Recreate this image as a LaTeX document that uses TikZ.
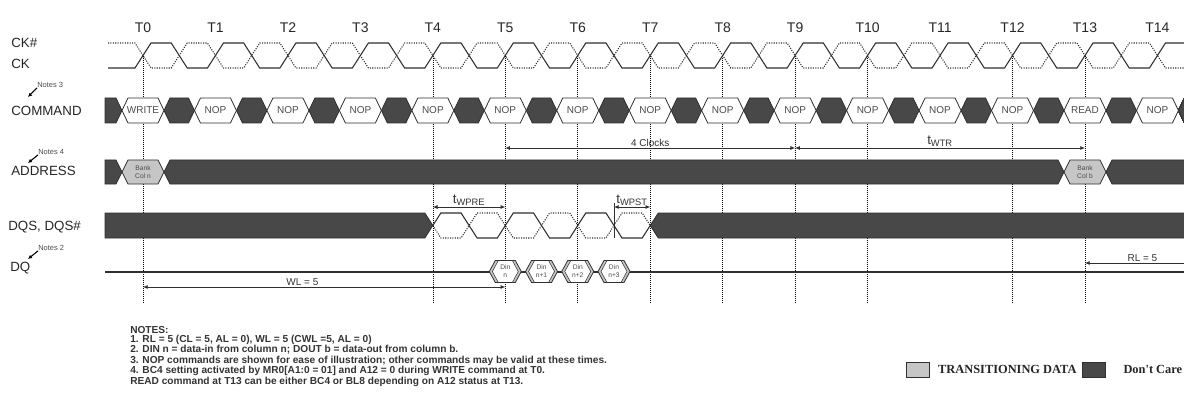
\documentclass[tikz,border=0pt]{standalone}
\usepackage{fontspec}
\setmainfont{Liberation Sans}
\newfontfamily\legendfont{Liberation Serif}
\usetikzlibrary{arrows.meta, positioning}

\definecolor{dontcare}{HTML}{484848}
\definecolor{transdata}{HTML}{C6C6C6}
\definecolor{wire}{HTML}{303030}

\tikzstyle{sigline} = [draw=wire, line width=0.8pt]
\tikzstyle{sigdot} = [draw=wire, line width=0.8pt, densely dotted]
\tikzstyle{darkbar} = [fill=dontcare, draw=wire, line width=0.6pt]
\tikzstyle{cmdbox} = [fill=white, draw=wire, line width=0.6pt]
\tikzstyle{transbox} = [fill=transdata, draw=wire, line width=0.6pt]
\tikzstyle{dinbox} = [fill=white, draw=wire, line width=0.4pt]
\tikzstyle{tickline} = [draw=black, line width=0.5pt, densely dotted]
\tikzstyle{dimarrow} = [draw=wire, line width=0.6pt, {Latex[length=3.5pt,width=3pt]}-{Latex[length=3.5pt,width=3pt]}]
\tikzstyle{notearrow} = [draw=black, line width=0.8pt, -{Latex[length=3pt,width=3pt]}]
\tikzstyle{signame} = [anchor=west, inner sep=0pt, font=\fontsize{10}{10}\selectfont, text=black!85]
\tikzstyle{clklabel} = [inner sep=0pt, font=\fontsize{10.5}{10.5}\selectfont, text=black!85]
\tikzstyle{boxtext} = [inner sep=0pt, font=\fontsize{7.5}{7.5}\selectfont, text=black!70]
\tikzstyle{tinytext} = [inner sep=0pt, align=center, font=\fontsize{5}{6}\selectfont, text=black!70]
\tikzstyle{notelabel} = [anchor=west, inner sep=0pt, font=\fontsize{5.6}{5.6}\selectfont, text=black!70]
\tikzstyle{dimlabel} = [inner sep=1pt, font=\fontsize{7.5}{7.5}\selectfont, text=black!80]
\tikzstyle{sublabel} = [inner sep=1pt, font=\fontsize{10}{10}\selectfont, text=black!80]
\tikzstyle{notestext} = [anchor=north west, inner sep=0pt, align=left, font=\bfseries\fontsize{7.6}{6.6}\selectfont, text=black!80]
\tikzstyle{legendbox} = [draw=wire, line width=0.6pt, minimum width=17.25pt, minimum height=11.25pt, inner sep=0pt]
\tikzstyle{legendtext} = [inner sep=0pt, font=\legendfont\bfseries\fontsize{9.3}{9.3}\selectfont, text=black!85]

% hexagon: style, left tip, right tip, centre y, half height, tip depth
\newcommand{\hexpath}[6]{%
  \path[#1] ({#2},{#4}) -- ({#2+#6},{#4-#5}) -- ({#3-#6},{#4-#5}) -- ({#3},{#4}) -- ({#3-#6},{#4+#5}) -- ({#2+#6},{#4+#5}) -- cycle;}

\begin{document}
\begin{tikzpicture}[x=0.75pt, y=-0.75pt]
  \useasboundingbox (0,0) rectangle (1184,406);

  % Clock edges and rows
  \foreach \i in {0,...,14} \coordinate (T\i) at ({143+72.46*\i},0);
  \coordinate (ticktop) at (0,56);
  \coordinate (tickbot) at (0,303);
  \coordinate (dimrow) at (0,148);
  \coordinate (prerow) at (0,207);
  \coordinate (rlrow) at (0,263);
  \coordinate (wlrow) at (0,287);
  \coordinate (rlend) at (1184,263);
  \coordinate (dqstart) at (105,272);
  \coordinate (dqend) at (1184,272);
  \coordinate (wpstfall) at ({143+72.46*6+36.23},207);
  \coordinate (wpsttop) at ({143+72.46*6+36.23},203);
  \coordinate (wpstbase) at ({143+72.46*6+36.23},238);

  % Reference lines
  \foreach \i in {0,4,5,6,7,8,9,10,12,13}
    \draw[tickline] (T\i |- ticktop) -- (T\i |- tickbot);

  % CK and CK#
  \draw[sigline] (108,68) \foreach \i in {0,...,13} { -- ({143+72.46*\i-8},68) -- ({143+72.46*\i+8},43) -- ({143+72.46*\i+28.23},43) -- ({143+72.46*\i+44.23},68) } -- ({143+72.46*14-8},68) -- ({143+72.46*14+8},43) -- (1184,43);
  \draw[sigdot] (108,43) \foreach \i in {0,...,13} { -- ({143+72.46*\i-8},43) -- ({143+72.46*\i+8},68) -- ({143+72.46*\i+28.23},68) -- ({143+72.46*\i+44.23},43) } -- ({143+72.46*14-8},43) -- ({143+72.46*14+8},68) -- (1184,68);

  % COMMAND
  \path[darkbar] (105,98) -- ({143-27},98) -- ({143-21},110.5) -- ({143-27},123) -- (105,123) -- cycle;
  \foreach \i in {0,...,13}
    \hexpath{darkbar}{143+72.46*\i+21}{143+72.46*\i+51.46}{110.5}{12.5}{6}
  \path[darkbar] ({143+72.46*14+21},110.5) -- ({143+72.46*14+27},98) -- (1190,98) -- (1190,123) -- ({143+72.46*14+27},123) -- cycle;
  \foreach \i/\cmd in {0/WRITE,1/NOP,2/NOP,3/NOP,4/NOP,5/NOP,6/NOP,7/NOP,8/NOP,9/NOP,10/NOP,11/NOP,12/NOP,13/READ,14/NOP} {
    \hexpath{cmdbox}{143+72.46*\i-21}{143+72.46*\i+21}{110.5}{12.5}{6}
    \node[boxtext] (cmd\i) at ({143+72.46*\i},110.5) {\cmd};
  }

  % ADDRESS
  \path[darkbar] (105,160) -- ({143-27},160) -- ({143-21},172) -- ({143-27},184) -- (105,184) -- cycle;
  \hexpath{darkbar}{143+21}{143+72.46*13-21}{172}{12}{6}
  \path[darkbar] ({143+72.46*13+21},172) -- ({143+72.46*13+27},160) -- (1190,160) -- (1190,184) -- ({143+72.46*13+27},184) -- cycle;
  \foreach \i/\col in {0/n,13/b} {
    \hexpath{transbox}{143+72.46*\i-21}{143+72.46*\i+21}{172}{12}{6}
    \node[tinytext] (addr\i) at ({143+72.46*\i},172) {Bank\\Col \col};
  }

  % DQS, DQS#
  \path[darkbar] (105,213) -- ({143+72.46*4-8},213) -- ({143+72.46*4},225.5) -- ({143+72.46*4-8},238) -- (105,238) -- cycle;
  \path[darkbar] ({143+72.46*7},225.5) -- ({143+72.46*7+8},213) -- (1190,213) -- (1190,238) -- ({143+72.46*7+8},238) -- cycle;
  \draw[sigline] ({143+72.46*4},225.5) \foreach \i in {4,5,6} { -- ({143+72.46*\i+8},213) -- ({143+72.46*\i+28.23},213) -- ({143+72.46*\i+44.23},238) -- ({143+72.46*\i+64.46},238) } -- ({143+72.46*7},225.5);
  \draw[sigdot] ({143+72.46*4},225.5) \foreach \i in {4,5,6} { -- ({143+72.46*\i+8},238) -- ({143+72.46*\i+28.23},238) -- ({143+72.46*\i+44.23},213) -- ({143+72.46*\i+64.46},213) } -- ({143+72.46*7},225.5);

  % DQ
  \draw[sigline] (dqstart) -- (dqend);
  \foreach \k/\sub in {0/n,1/n+1,2/n+2,3/n+3} {
    \hexpath{transbox}{143+72.46*5+36.23*\k-16}{143+72.46*5+36.23*\k+16}{271.5}{11}{6}
    \hexpath{dinbox}{143+72.46*5+36.23*\k-13}{143+72.46*5+36.23*\k+13}{271.5}{11}{6}
    \node[tinytext] (din\k) at ({143+72.46*5+36.23*\k},271.5) {Din\\\sub};
  }

  % Timing parameters
  \draw[dimarrow] (T5 |- dimrow) -- node[dimlabel, above] {4 Clocks} (T9 |- dimrow);
  \draw[dimarrow] (T9 |- dimrow) -- node[sublabel, above] {t\textsubscript{WTR}} (T13 |- dimrow);
  \draw[dimarrow] (T4 |- prerow) -- node[sublabel, above] {t\textsubscript{WPRE}} (T5 |- prerow);
  \draw[dimarrow] (wpstfall) -- node[sublabel, above] {t\textsubscript{WPST}} (T7 |- prerow);
  \draw[draw=wire, line width=0.5pt] (wpsttop) -- (wpstbase);
  \draw[dimarrow] (T0 |- wlrow) -- node[dimlabel, above, pos=0.44] {WL = 5} (T5 |- wlrow);
  \draw[dimarrow, {Latex[length=3.5pt,width=3pt]}-] (T13 |- rlrow) -- node[dimlabel, above, pos=0.58] {RL = 5} (rlend);

  % Labels
  \foreach \i in {0,...,14} \node[clklabel] (lblT\i) at ({143+72.46*\i},28) {T\i};
  \node[signame] (ckbar) at (11,43) {CK\#};
  \node[signame] (ck) at (11,64) {CK};
  \node[signame] (command) at (11,111) {COMMAND};
  \node[signame] (address) at (11,171) {ADDRESS};
  \node[signame] (dqs) at (8,227) {DQS, DQS\#};
  \node[signame] (dq) at (10,268) {DQ};

  \node[notelabel] (note3) at (37,85) {Notes 3};
  \node[notelabel] (note4) at (38,152) {Notes 4};
  \node[notelabel] (note2) at (38,248) {Notes 2};
  \coordinate (note3tip) at (28,97);
  \coordinate (note4tip) at (28,163);
  \coordinate (note2tip) at (28,259);
  \draw[notearrow] (note3.south west) -- (note3tip);
  \draw[notearrow] (note4.south west) -- (note4tip);
  \draw[notearrow] (note2.south west) -- (note2tip);

  % Notes
  \node[notestext] (notes) at (130,326) {NOTES:\\
    1. RL = 5 (CL = 5, AL = 0), WL = 5 (CWL =5, AL = 0)\\
    2. DIN n = data-in from column n; DOUT b = data-out from column b.\\
    3. NOP commands are shown for ease of illustration; other commands may be valid at these times.\\
    4. BC4 setting activated by MR0[A1:0 = 01] and A12 = 0 during WRITE command at T0.\\
    READ command at T13 can be either BC4 or BL8 depending on A12 status at T13.};

  % Legend
  \node[legendbox, fill=transdata] (legtrans) at (918,369.5) {};
  \node[legendtext, right=6pt of legtrans] (legtranstext) {TRANSITIONING DATA};
  \node[legendbox, fill=dontcare] (legdont) at (1094,369.5) {};
  \node[legendtext, right=13pt of legdont] (legdonttext) {Don't Care};
\end{tikzpicture}
\end{document}
